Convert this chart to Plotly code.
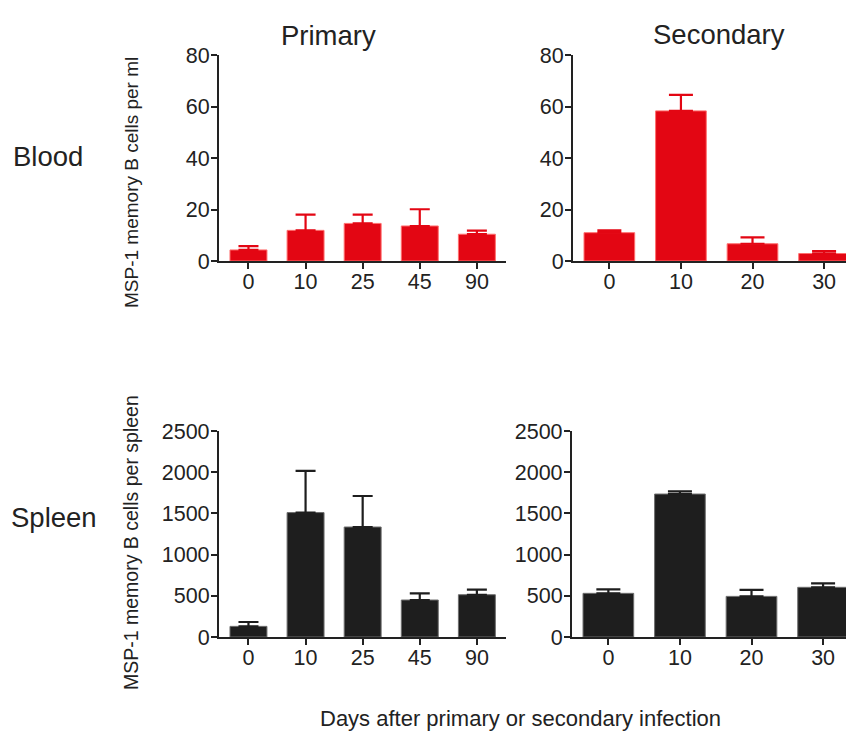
import plotly.graph_objects as go

W, H = 854, 731
OFF = 8  # page body margin of the browser
FW, FH = W - OFF, H - OFF

# ---- data ----
primary_days = ["0", "10", "25", "45", "90"]
secondary_days = ["0", "10", "20", "30"]

blood_primary = [4.3, 11.9, 14.6, 13.6, 10.4]
blood_primary_err = [1.5, 6.1, 3.4, 6.5, 1.4]
blood_secondary = [11.0, 58.3, 6.7, 2.9]
blood_secondary_err = [0.9, 6.2, 2.5, 0.9]

spleen_primary = [129, 1510, 1335, 449, 513]
spleen_primary_err = [53, 506, 376, 80, 61]
spleen_secondary = [530, 1735, 493, 603]
spleen_secondary_err = [48, 32, 80, 48]

blood_ticks = [0, 20, 40, 60, 80]
spleen_ticks = [0, 500, 1000, 1500, 2000, 2500]

RED = "rgb(227,6,19)"
DARK = "rgb(30,30,30)"
TXT = "#222222"
FONT = "Liberation Sans, Arial, sans-serif"


def px_x(a, b):
    return [(a - OFF) / FW, min(1.0, (b - OFF) / FW)]


def px_y(top, bottom):
    return [1 - (bottom - OFF) / FH, 1 - (top - OFF) / FH]


fig = go.Figure()

panels = [
    (primary_days, blood_primary, blood_primary_err, RED, "rgb(255,110,110)", "x", "y", 0.647, 10),
    (secondary_days, blood_secondary, blood_secondary_err, RED, "rgb(255,110,110)", "x2", "y2", 0.708, 12),
    (primary_days, spleen_primary, spleen_primary_err, DARK, "rgb(110,110,110)", "x3", "y3", 0.647, 10),
    (secondary_days, spleen_secondary, spleen_secondary_err, DARK, "rgb(110,110,110)", "x4", "y4", 0.708, 12),
]

for cats, vals, errs, col, lcol, xa, ya, bw, cap in panels:
    fig.add_trace(go.Bar(
        x=cats, y=vals, xaxis=xa, yaxis=ya, width=bw,
        marker=dict(color=col, line=dict(color=lcol, width=1)),
        error_y=dict(type="data", symmetric=False, array=errs,
                     arrayminus=[0] * len(errs), color=col,
                     thickness=2.2, width=cap),
        showlegend=False,
    ))

axis_common = dict(
    showline=True, linecolor=TXT, linewidth=2.2, mirror=False,
    ticks="outside", ticklen=6, tickwidth=2.2, tickcolor=TXT,
    showgrid=False, zeroline=False, automargin=False,
    tickfont=dict(family=FONT, size=21.5, color=TXT),
    fixedrange=True,
)
xcommon = dict(axis_common, type="category", ticklabelstandoff=-6)
ycommon = dict(axis_common, ticklabelstandoff=-3)

fig.update_layout(
    template="none",
    width=FW, height=FH,
    margin=dict(l=0, r=0, t=0, b=0, pad=0),
    paper_bgcolor="white", plot_bgcolor="white",
    font=dict(family=FONT, color=TXT),
    xaxis=dict(xcommon, domain=px_x(219, 506), range=[-0.516, 4.51], anchor="y"),
    yaxis=dict(ycommon, domain=px_y(55, 261), range=[0, 80],
               tickvals=blood_ticks, anchor="x"),
    xaxis2=dict(xcommon, domain=px_x(573, 854), range=[-0.508, 3.418], anchor="y2"),
    yaxis2=dict(ycommon, domain=px_y(55, 261), range=[0, 80],
                tickvals=blood_ticks, anchor="x2"),
    xaxis3=dict(xcommon, domain=px_x(219, 506), range=[-0.516, 4.51], anchor="y3"),
    yaxis3=dict(ycommon, domain=px_y(431, 637), range=[0, 2500],
                tickvals=spleen_ticks, anchor="x3"),
    xaxis4=dict(xcommon, domain=px_x(572, 853), range=[-0.508, 3.418], anchor="y4"),
    yaxis4=dict(ycommon, domain=px_y(431, 637), range=[0, 2500],
                tickvals=spleen_ticks, anchor="x4"),
)

ann = [
    dict(text="Primary", x=328, y=36, size=27.5, angle=0),
    dict(text="Secondary", x=719, y=35, size=27.5, angle=0),
    dict(text="Blood", x=48, y=157, size=27.5, angle=0),
    dict(text="Spleen", x=54, y=517, size=27.5, angle=0),
    dict(text="MSP-1 memory B cells per ml", x=131, y=182, size=19, angle=-90),
    dict(text="MSP-1 memory B cells per spleen", x=131, y=542, size=19.5, angle=-90),
    dict(text="Days after primary or secondary infection", x=520, y=718, size=22, angle=0),
]
for a in ann:
    fig.add_annotation(
        text=a["text"], x=(a["x"] - OFF) / FW, y=1 - (a["y"] - OFF) / FH,
        xref="paper", yref="paper", xanchor="center", yanchor="middle",
        showarrow=False, textangle=a["angle"],
        font=dict(family=FONT, size=a["size"], color=TXT),
    )

fig.write_html("out.html")
